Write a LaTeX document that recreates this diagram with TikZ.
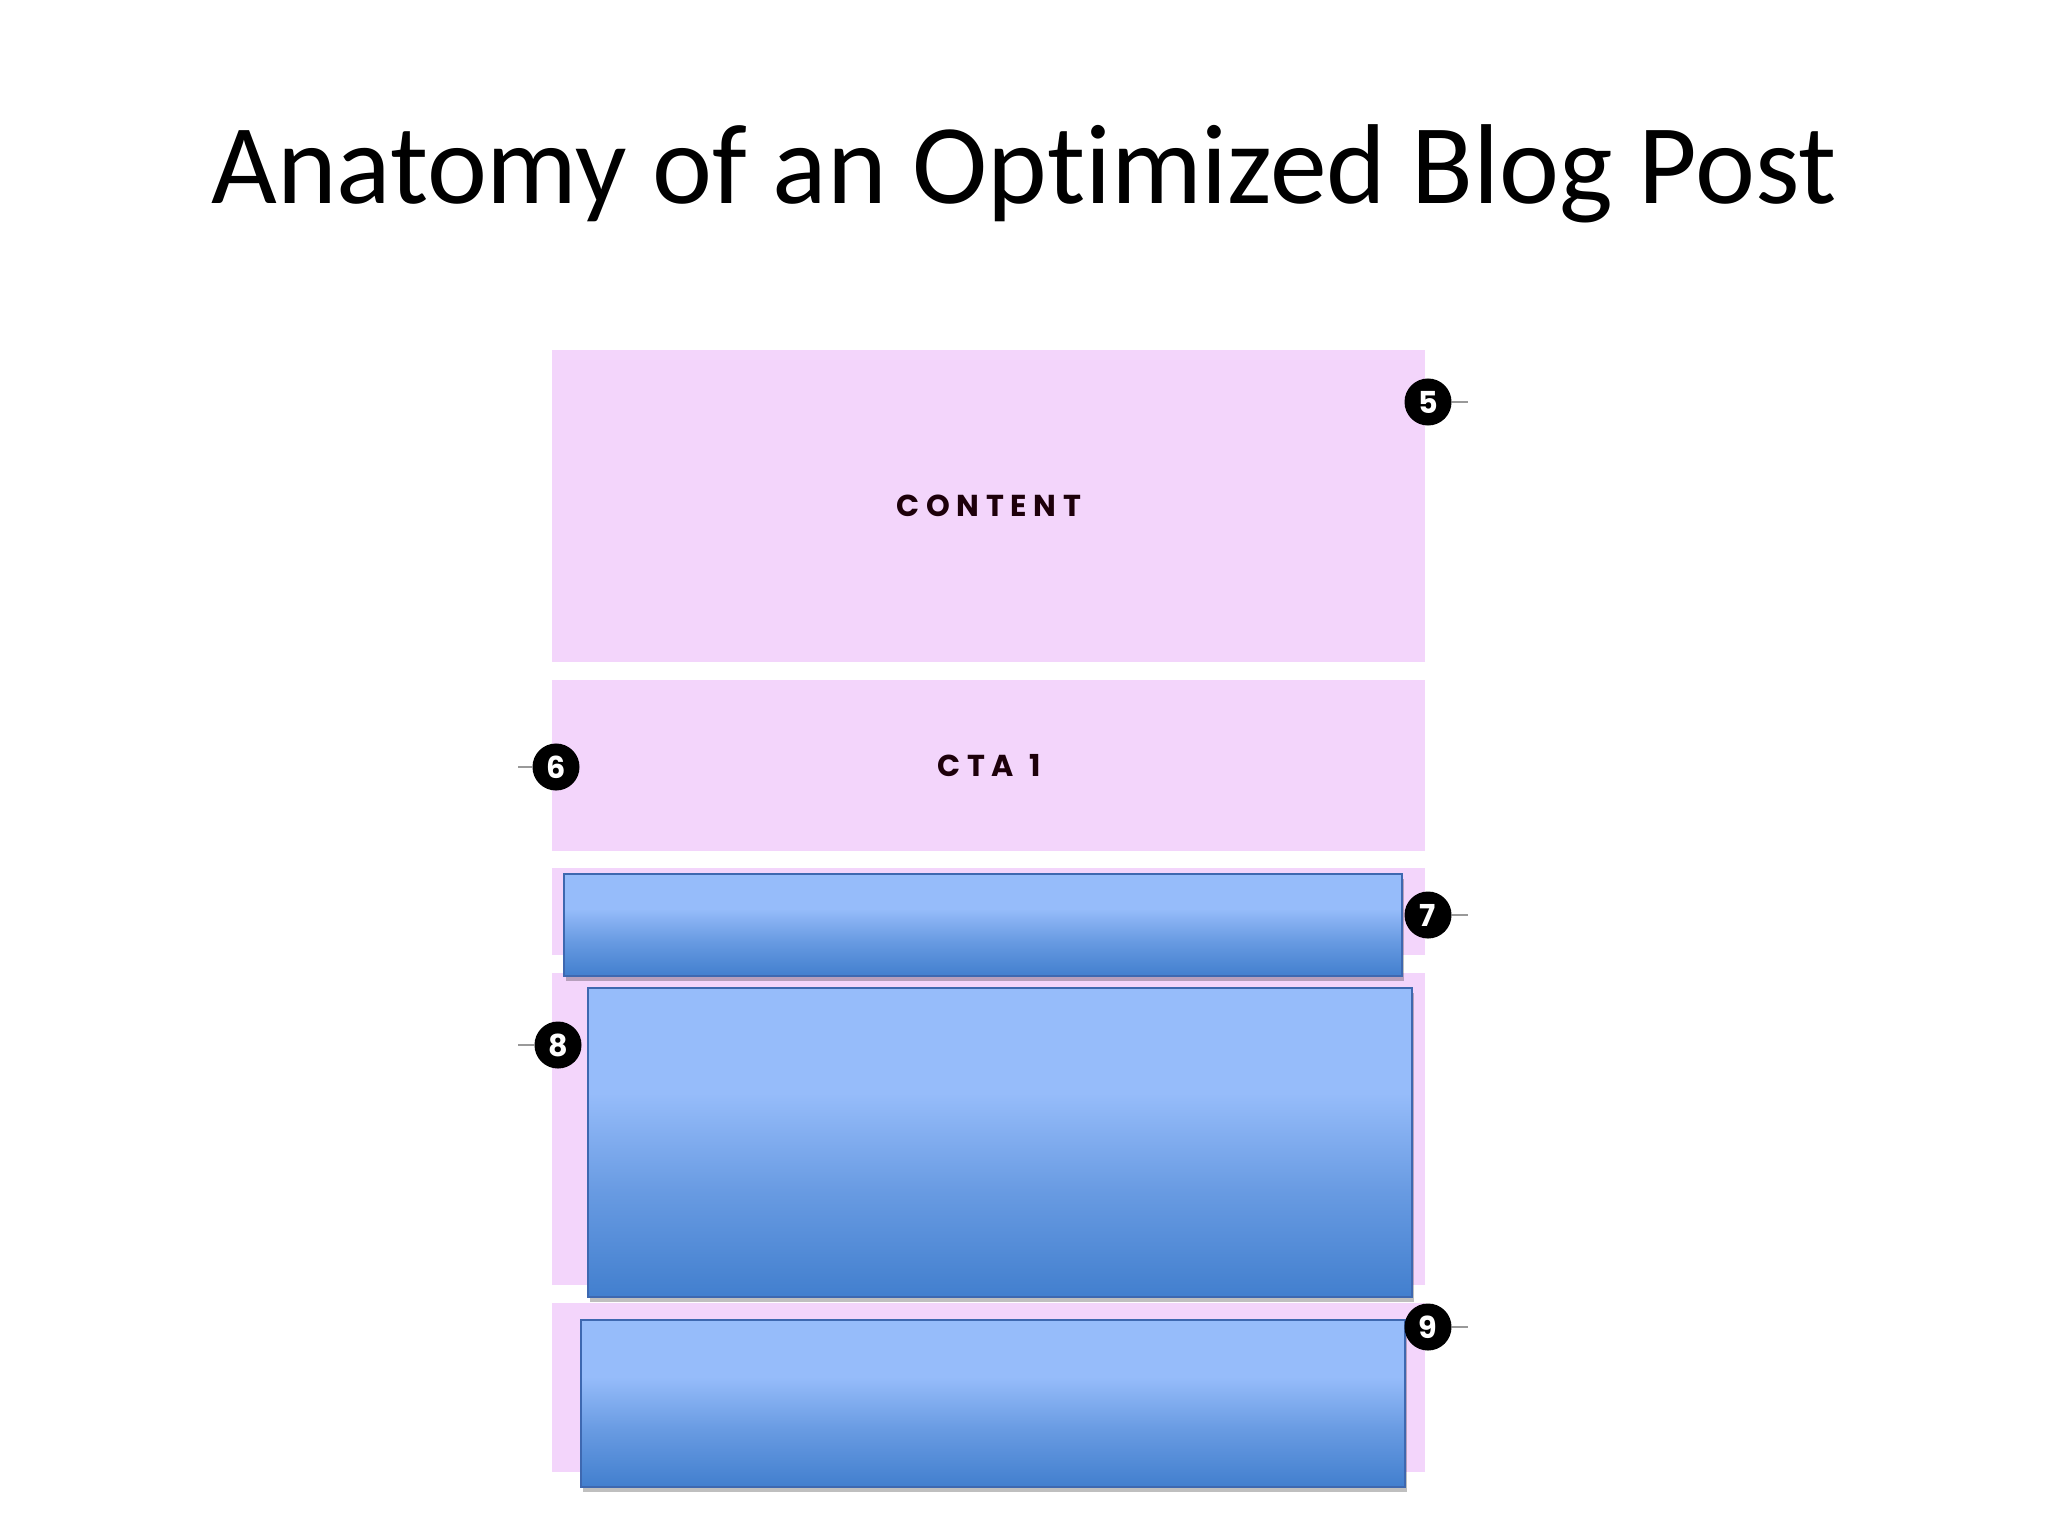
\documentclass[tikz,border=0pt]{standalone}
\usepackage{fontspec}
\setmainfont{Carlito}[Ligatures=NoCommon]
\newfontfamily\tagfont[LetterSpace=22]{Poppins}
\newfontfamily\numfont{Poppins}
\usetikzlibrary{shadows}
\definecolor{panelpink}{RGB}{243,213,251}
\definecolor{bluetop}{RGB}{150,188,250}
\definecolor{bluebot}{RGB}{66,127,206}
\definecolor{blueedge}{RGB}{62,104,176}
\pgfdeclareverticalshading{bluebar}{100bp}{color(0bp)=(bluebot); color(25bp)=(bluebot); color(42bp)=(bluebot!55!bluetop); color(58bp)=(bluetop); color(100bp)=(bluetop)}
\tikzset{
	panel/.style={fill=panelpink, draw=none},
	bluebox/.style={shading=bluebar, draw=blueedge, line width=0.5pt,
		drop shadow={shadow xshift=0.5pt, shadow yshift=-1.5pt, opacity=0.25, fill=black}},
	badge/.style={circle, fill=black, text=white, minimum size=0.47cm, inner sep=0pt,
		font=\numfont\bfseries\fontsize{8.6}{9}\selectfont},
	tick/.style={draw=black!40, line width=0.35pt},
	tag/.style={text=black!85!purple, font=\tagfont\bfseries\fontsize{8.6}{9}\selectfont}
}

\begin{document}
\begin{tikzpicture}[x=0.01cm, y=-0.01cm]
			%%%%% START %%%%%
			\useasboundingbox[fill=white] (0,0) rectangle (2048,1536);
			
			\node[font=\fontsize{32.3}{38}\selectfont] (title) at (1024,174) {Anatomy of an Optimized Blog Post};
			
			% pink sections
			\draw[panel] (552,350) rectangle (1425,662);
			\draw[panel] (552,680) rectangle (1425,851);
			\draw[panel] (552,868) rectangle (1425,955);
			\draw[panel] (552,973) rectangle (1425,1285);
			\draw[panel] (552,1303) rectangle (1425,1472);
			
			\node[tag] (content) at (989,506) {CONTENT};
			\node[tag] (cta) at (989,766) {CTA\hspace{0.5em}1};
			
			% blue boxes
			\draw[bluebox] (564,874) rectangle (1402,976);
			\draw[bluebox] (588,988) rectangle (1412,1297);
			\draw[bluebox] (581,1320) rectangle (1405,1487);
			
			% numbered badges
			\node[badge] (b5) at (1428,402) {5};
			\node[badge] (b6) at (556,767) {6};
			\node[badge] (b7) at (1428,915) {7};
			\node[badge] (b8) at (558,1045) {8};
			\node[badge] (b9) at (1428,1327) {9};
			
			\coordinate (t5) at (1468,402);
			\coordinate (t6) at (518,767);
			\coordinate (t7) at (1468,915);
			\coordinate (t8) at (518,1045);
			\coordinate (t9) at (1468,1327);
			\foreach \b in {5,6,7,8,9}
				\draw[tick] (b\b) -- (t\b);
			
			%%%%% END %%%%%
		\end{tikzpicture}
\end{document}
